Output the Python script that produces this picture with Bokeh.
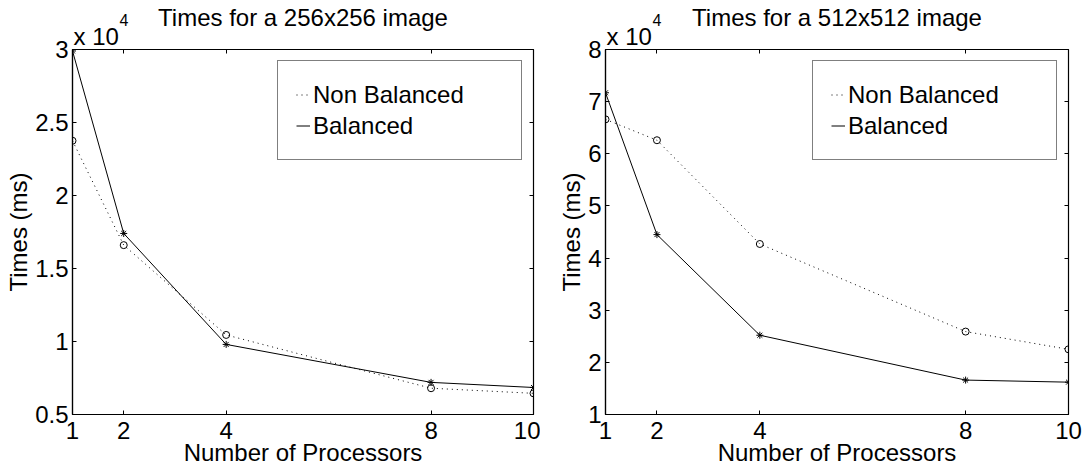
from bokeh.plotting import figure
from bokeh.layouts import row
from bokeh.models import (Range1d, FixedTicker, LinearAxis, Legend, LegendItem,
                          Title, CustomJSTickFormatter)
from bokeh.embed import file_html
from bokeh.resources import INLINE

FONT = "Liberation Sans"
FS = "24px"

processors = [1, 2, 4, 8, 10]
# times in units of 10^4 ms (as on the axes)
nonbal_256 = [2.375, 1.66, 1.045, 0.68, 0.645]
bal_256 = [2.99, 1.74, 0.98, 0.72, 0.685]
nonbal_512 = [6.66, 6.26, 4.27, 2.59, 2.25]
bal_512 = [7.17, 4.45, 2.52, 1.66, 1.62]

titles = ["Times for a 256x256 image", "Times for a 512x512 image"]
yticks_256 = [0.5, 1, 1.5, 2, 2.5, 3]
yticks_512 = [1, 2, 3, 4, 5, 6, 7, 8]
series_names = ["Non Balanced", "Balanced"]
exp_base, exp_power = "x 10", "4"


def style_axis(ax, ticks, show_labels=True):
    ax.ticker = FixedTicker(ticks=ticks)
    ax.major_tick_in = 4
    ax.major_tick_out = 0
    ax.minor_tick_line_color = None
    ax.major_tick_line_color = "black"
    ax.axis_line_color = "black"
    ax.axis_line_width = 1.2
    if show_labels:
        ax.formatter = CustomJSTickFormatter(code="return tick.toString();")
        ax.major_label_text_font = FONT
        ax.major_label_text_font_size = FS
        ax.major_label_text_color = "black"
        ax.axis_label_text_font = FONT
        ax.axis_label_text_font_size = FS
        ax.axis_label_text_font_style = "normal"
        ax.axis_label_text_color = "black"
    else:
        ax.formatter = CustomJSTickFormatter(code="return '';")
        ax.major_label_text_font_size = "0px"
        ax.major_label_standoff = 0


def make_panel(title, nonbal, bal, ymin, ymax, yticks, width, bl, br):
    p = figure(width=width, height=468, x_range=Range1d(1, 10),
               y_range=Range1d(ymin, ymax), output_backend="svg", title=None,
               toolbar_location=None, min_border_left=bl, min_border_right=br,
               min_border_top=49, min_border_bottom=54,
               background_fill_color="white", border_fill_color="white")
    p.grid.visible = False
    p.outline_line_color = "black"
    p.outline_line_width = 1.2

    style_axis(p.xaxis[0], processors)
    style_axis(p.yaxis[0], yticks)
    p.xaxis[0].axis_label = "Number of Processors"
    p.yaxis[0].axis_label = "Times (ms)"
    p.xaxis[0].major_label_standoff = 7
    p.xaxis[0].axis_label_standoff = -3
    p.yaxis[0].major_label_standoff = 4
    p.yaxis[0].axis_label_standoff = 0

    top = LinearAxis()
    style_axis(top, processors, show_labels=False)
    top.axis_line_color = None
    p.add_layout(top, "above")
    right = LinearAxis()
    style_axis(right, yticks, show_labels=False)
    right.axis_line_color = None
    p.add_layout(right, "right")

    # exponent marker and title, stacked outward from the frame
    p.add_layout(Title(text=exp_base, align="left", offset=1, standoff=0,
                       text_font=FONT, text_font_size=FS,
                       text_font_style="normal", text_color="black"), "above")
    p.add_layout(Title(text=exp_power, align="left", offset=47, standoff=-10,
                       text_font=FONT, text_font_size="16px",
                       text_font_style="normal", text_color="black"), "above")
    p.add_layout(Title(text=title, align="center", standoff=-29,
                       text_font=FONT, text_font_size=FS,
                       text_font_style="normal", text_color="black"), "above")

    l_nb = p.line(processors, nonbal, line_color="black", line_width=1,
                  line_dash="1 4")
    p.scatter(processors, nonbal, marker="circle", size=7, fill_color=None,
              line_color="black", line_width=1)
    l_b = p.line(processors, bal, line_color="black", line_width=1)
    p.scatter(processors, bal, marker="asterisk", size=7, line_color="black",
              line_width=1)

    legend = Legend(items=[LegendItem(label=series_names[0], renderers=[l_nb]),
                           LegendItem(label=series_names[1], renderers=[l_b])],
                    location="top_right", margin=11, padding=18, spacing=0,
                    label_height=31, glyph_height=31, glyph_width=14,
                    label_standoff=3, label_width=190,
                    label_text_font=FONT, label_text_font_size=FS,
                    label_text_color="black",
                    border_line_color="black", border_line_width=1.2,
                    background_fill_color="white", background_fill_alpha=1)
    p.add_layout(legend, "center")
    return p


p1 = make_panel(titles[0], nonbal_256, bal_256, 0.5, 3, yticks_256, 540, 72, 7)
p2 = make_panel(titles[1], nonbal_512, bal_512, 1, 8, yticks_512, 544, 65, 16)

layout = row(p1, p2, spacing=0)
open("out.html", "w").write(file_html(layout, INLINE))
